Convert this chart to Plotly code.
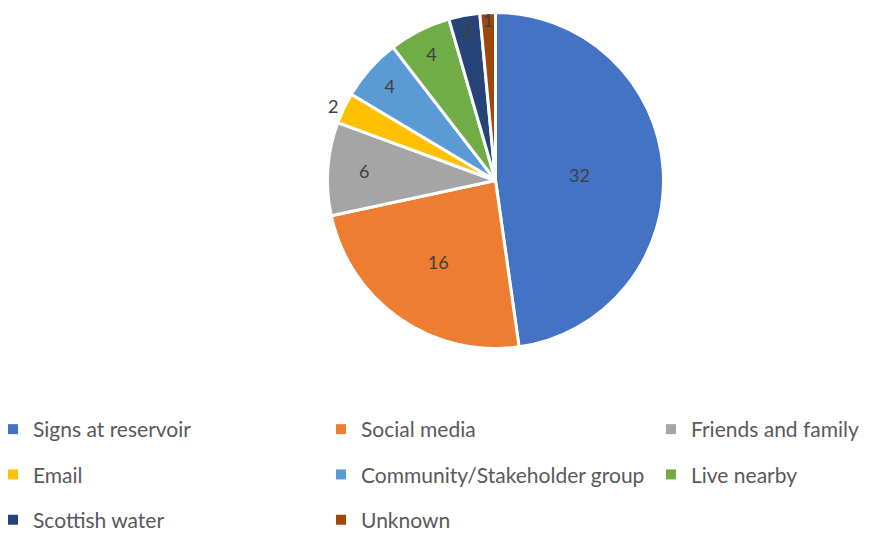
import plotly.graph_objects as go

labels = ["Signs at reservoir", "Social media", "Friends and family", "Email",
          "Community/Stakeholder group", "Live nearby", "Scottish water", "Unknown"]
values = [32, 16, 6, 2, 4, 4, 2, 1]
colors = ["#4472C4", "#ED7D31", "#A5A5A5", "#FFC000", "#5B9BD5", "#70AD47", "#264478", "#9E480E"]
text_pos = ["inside", "inside", "inside", "outside", "inside", "inside", "inside", "inside"]

W, H = 872, 534
cx, cy, r = 487.5, 172.5, 168

fig = go.Figure()
fig.add_trace(go.Pie(
    labels=labels, values=values, sort=False, direction="clockwise", rotation=0,
    marker=dict(colors=colors, line=dict(color="white", width=3)),
    textinfo="value", textposition=text_pos,
    textfont=dict(color="#404040", size=18, family="Lato, sans-serif"),
    insidetextorientation="horizontal",
    domain=dict(x=[(cx - r) / W, (cx + r) / W], y=[1 - (cy + r) / H, 1 - (cy - r) / H]),
    hoverinfo="label+value", showlegend=False,
))

# legend entries laid out in three columns like the original
legend_names = ["legend", "legend2", "legend3"]
for i, (lab, col) in enumerate(zip(labels, colors)):
    fig.add_trace(go.Scatter(
        x=[None], y=[None], mode="markers", name=lab,
        marker=dict(symbol="square", size=10, color=col),
        legend=legend_names[i % 3], legendgroup=lab, showlegend=True,
        hoverinfo="skip",
    ))

leg_common = dict(orientation="v", yanchor="top", xanchor="left",
                  font=dict(size=21, color="#595959", family="Lato, sans-serif"),
                  tracegroupgap=15, bgcolor="rgba(0,0,0,0)", itemwidth=30)
col_x = [-15, 313, 643]
top_y = 401

fig.update_layout(
    width=W, height=H,
    margin=dict(l=0, r=0, t=0, b=0, autoexpand=False),
    paper_bgcolor="white", plot_bgcolor="white",
    font=dict(family="Lato, sans-serif", color="#595959", size=19),
    xaxis=dict(visible=False, range=[0, 1]), yaxis=dict(visible=False, range=[0, 1]),
    legend=dict(x=col_x[0] / W, y=1 - top_y / H, **leg_common),
    legend2=dict(x=col_x[1] / W, y=1 - top_y / H, **leg_common),
    legend3=dict(x=col_x[2] / W, y=1 - top_y / H, **leg_common),
    uniformtext=dict(minsize=18, mode="show"),
)

fig.write_html("out.html")
